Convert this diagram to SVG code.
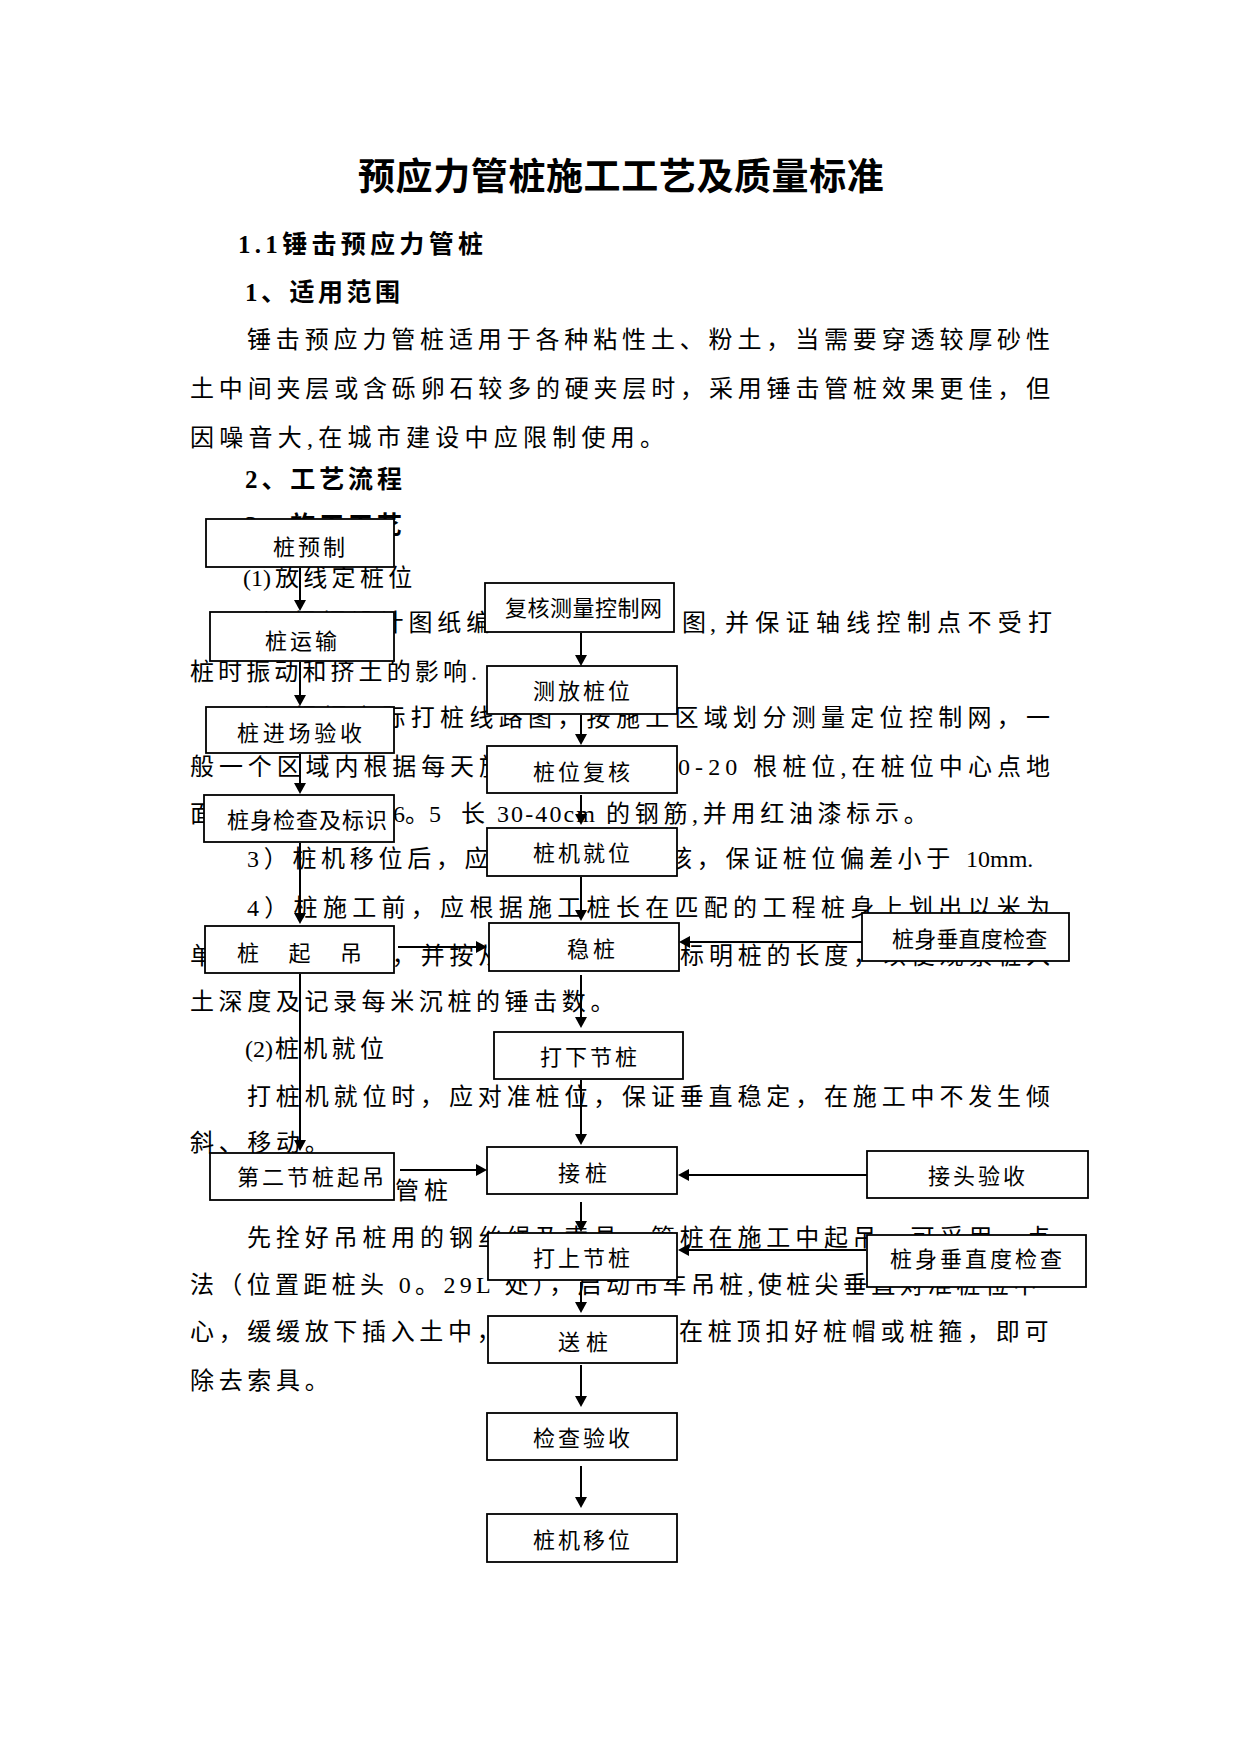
<svg xmlns="http://www.w3.org/2000/svg" width="1241" height="1754" viewBox="0 0 1241 1754">
<style>
.tt{font-family:"Noto Sans CJK SC","Noto Sans CJK JP",sans-serif;font-size:37px;font-weight:bold;fill:#000}
.h{font-family:"Liberation Serif","Noto Sans CJK SC",serif;font-size:25px;font-weight:bold;fill:#000}
.t{font-family:"Liberation Serif","Noto Sans CJK SC",serif;font-size:24px;fill:#000}
.bx{fill:#fff;stroke:#000;stroke-width:1.8}
.lb{font-family:"Noto Sans CJK SC",sans-serif;font-size:22px;fill:#000}
.cn{stroke:#000;stroke-width:2;fill:none;marker-end:url(#arr)}
</style>
<defs>
<marker id="arr" viewBox="0 0 11 12" refX="6" refY="6" markerWidth="11" markerHeight="12" markerUnits="userSpaceOnUse" orient="auto">
<path d="M0,0 L11,6 L0,12 z" fill="#000"/>
</marker>
</defs>
<rect x="0" y="0" width="1241" height="1754" fill="#fff"/>

<g id="body-text">
<text class="tt" x="358" y="189.5" letter-spacing="0.6">预应力管桩施工工艺及质量标准</text>
<text class="h" x="238" y="253" letter-spacing="4.3">1.1锤击预应力管桩</text>
<text class="h" x="245" y="300.5" letter-spacing="3.5">1、适用范围</text>
<text class="t" x="247" y="348" letter-spacing="4.85">锤击预应力管桩适用于各种粘性土、粉土，当需要穿透较厚砂性</text>
<text class="t" x="190" y="397" letter-spacing="4.83">土中间夹层或含砾卵石较多的硬夹层时，采用锤击管桩效果更佳，但</text>
<text class="t" x="190" y="446" letter-spacing="5.25">因噪音大,在城市建设中应限制使用。</text>
<text class="h" x="245" y="488" letter-spacing="3.9">2、工艺流程</text>
<text class="h" x="245" y="534" letter-spacing="3.9">3、施工工艺</text>
<text class="t" y="586"><tspan x="243">(1)</tspan><tspan x="275" letter-spacing="4.3">放线定桩位</tspan></text>
<text class="t" y="631"><tspan x="247" letter-spacing="4.9">1）根据设计图纸编</tspan><tspan x="682" letter-spacing="4">图,</tspan><tspan x="725" letter-spacing="6.3">并保证轴线控制点不受打</tspan></text>
<text class="t" x="190" y="679.5" letter-spacing="4.1">桩时振动和挤土的影响.</text>
<text class="t" x="247" y="726" letter-spacing="5.3">2）根据实际打桩线路图，按施工区域划分测量定位控制网，一</text>
<text class="t" y="774.5"><tspan x="190" letter-spacing="4.9">般一个区域内根据每天施</tspan><tspan x="678" letter-spacing="5.07">0-20 根桩位,在桩位中心点地</tspan></text>
<text class="t" y="822"><tspan x="190">面</tspan><tspan x="393">6。5</tspan><tspan x="461">长</tspan><tspan x="497" letter-spacing="2.1">30-40cm</tspan><tspan x="606" letter-spacing="4.7">的钢筋,并用红油漆标示。</tspan></text>
<text class="t" y="866.5"><tspan x="247" letter-spacing="4.7">3）桩机移位后，应</tspan><tspan x="668" letter-spacing="4.7">核，保证桩位偏差小于</tspan><tspan x="966">10mm.</tspan></text>
<text class="t" x="247" y="916" letter-spacing="5.3">4）桩施工前，应根据施工桩长在匹配的工程桩身上划出以米为</text>
<text class="t" x="190" y="963.5" letter-spacing="4.83">单位的长度标记，并按从下至上的顺序标明桩的长度，以便观察桩入</text>
<text class="t" x="190" y="1009.5" letter-spacing="4.6">土深度及记录每米沉桩的锤击数。</text>
<text class="t" y="1057"><tspan x="245">(2)</tspan><tspan x="275" letter-spacing="4.3">桩机就位</tspan></text>
<text class="t" x="247" y="1105" letter-spacing="4.85">打桩机就位时，应对准桩位，保证垂直稳定，在施工中不发生倾</text>
<text class="t" x="190" y="1151" letter-spacing="4.67">斜、移动。</text>
<text class="t" x="395" y="1199" letter-spacing="5">管桩</text>
<text class="t" x="247" y="1246" letter-spacing="4.85">先拴好吊桩用的钢丝绳及索具，管桩在施工中起吊，可采用一点</text>
<text class="t" x="190" y="1293" letter-spacing="4.34">法（位置距桩头 0。29L 处），启动吊车吊桩,使桩尖垂直对准桩位中</text>
<text class="t" y="1340"><tspan x="190" letter-spacing="4.67">心，缓缓放下插入土中，</tspan><tspan x="679" letter-spacing="4.8">在桩顶扣好桩帽或桩箍，即可</tspan></text>
<text class="t" x="190" y="1389" letter-spacing="4.67">除去索具。</text>
</g>

<g id="node-pile-prefab"><rect class="bx" x="206" y="519" width="188" height="48"/><text class="lb" x="273" y="555.4" letter-spacing="3">桩预制</text></g>
<g id="node-pile-transport"><rect class="bx" x="210" y="612" width="184" height="49"/><text class="lb" x="265" y="649.4" letter-spacing="3">桩运输</text></g>
<g id="node-site-acceptance"><rect class="bx" x="206" y="707" width="188" height="46"/><text class="lb" x="237" y="741.4" letter-spacing="3.75">桩进场验收</text></g>
<g id="node-body-check-mark"><rect class="bx" x="204" y="795" width="190" height="47"/><text class="lb" x="227" y="827.6" font-size="20" letter-spacing="1">桩身检查及标识</text></g>
<g id="node-pile-lift"><rect class="bx" x="205" y="926" width="189" height="47"/><text class="lb" x="237" y="961.4" letter-spacing="3.75">桩　起　吊</text></g>
<g id="node-second-lift"><rect class="bx" x="210" y="1153" width="184" height="47"/><text class="lb" x="237" y="1185.4" letter-spacing="3">第二节桩起吊</text></g>

<g id="node-recheck-network"><rect class="bx" x="485" y="583" width="189" height="49"/><text class="lb" x="505" y="615.5" font-size="21" letter-spacing="0.5">复核测量控制网</text></g>
<g id="node-set-out"><rect class="bx" x="487" y="666" width="190" height="48"/><text class="lb" x="533" y="699.4" letter-spacing="3">测放桩位</text></g>
<g id="node-position-recheck"><rect class="bx" x="487" y="746" width="190" height="47"/><text class="lb" x="533" y="780.4" letter-spacing="3">桩位复核</text></g>
<g id="node-rig-in-place"><rect class="bx" x="487" y="828" width="190" height="48"/><text class="lb" x="533" y="861.4" letter-spacing="3">桩机就位</text></g>
<g id="node-stabilize"><rect class="bx" x="489" y="923" width="190" height="48"/><text class="lb" x="567" y="957.4" letter-spacing="4">稳桩</text></g>
<g id="node-drive-lower"><rect class="bx" x="494" y="1032" width="189" height="47"/><text class="lb" x="540" y="1065.4" letter-spacing="3">打下节桩</text></g>
<g id="node-splice"><rect class="bx" x="487" y="1147" width="190" height="47"/><text class="lb" x="558" y="1181.4" letter-spacing="5">接桩</text></g>
<g id="node-drive-upper"><rect class="bx" x="488" y="1233" width="189" height="47"/><text class="lb" x="533" y="1266.4" letter-spacing="3">打上节桩</text></g>
<g id="node-follow"><rect class="bx" x="488" y="1316" width="189" height="47"/><text class="lb" x="558" y="1350.4" letter-spacing="6">送桩</text></g>
<g id="node-inspect"><rect class="bx" x="487" y="1413" width="190" height="47"/><text class="lb" x="533" y="1446.4" letter-spacing="3">检查验收</text></g>
<g id="node-rig-move"><rect class="bx" x="487" y="1514" width="190" height="48"/><text class="lb" x="533" y="1548.4" letter-spacing="3">桩机移位</text></g>

<g id="node-vertical-check-1"><rect class="bx" x="862" y="913" width="207" height="48"/><text class="lb" x="892" y="947" font-size="21" letter-spacing="0.2">桩身垂直度检查</text></g>
<g id="node-joint-acceptance"><rect class="bx" x="867" y="1151" width="221" height="47"/><text class="lb" x="928" y="1184.4" letter-spacing="3">接头验收</text></g>
<g id="node-vertical-check-2"><rect class="bx" x="867" y="1235" width="219" height="52"/><text class="lb" x="890" y="1267.4" letter-spacing="3">桩身垂直度检查</text></g>

<g id="connectors">
<line class="cn" x1="300" y1="568" x2="300" y2="606"/>
<line class="cn" x1="300" y1="662" x2="300" y2="701"/>
<line class="cn" x1="300" y1="754" x2="300" y2="789"/>
<line class="cn" x1="300" y1="843" x2="300" y2="919"/>
<line class="cn" x1="300" y1="974" x2="300" y2="1146"/>
<line class="cn" x1="581" y1="633" x2="581" y2="661"/>
<line class="cn" x1="581" y1="715" x2="581" y2="740"/>
<line class="cn" x1="581" y1="795" x2="581" y2="820"/>
<line class="cn" x1="581" y1="877" x2="581" y2="916"/>
<line class="cn" x1="581" y1="975" x2="581" y2="1023"/>
<line class="cn" x1="581" y1="1080" x2="581" y2="1140"/>
<line class="cn" x1="581" y1="1202" x2="581" y2="1227"/>
<line class="cn" x1="581" y1="1282" x2="581" y2="1308"/>
<line class="cn" x1="581" y1="1365" x2="581" y2="1402"/>
<line class="cn" x1="581" y1="1466" x2="581" y2="1503"/>
<line class="cn" x1="398" y1="947" x2="482" y2="947" stroke-width="3"/>
<line class="cn" x1="862" y1="942" x2="684" y2="942"/>
<line class="cn" x1="400" y1="1170" x2="482" y2="1170"/>
<line class="cn" x1="867" y1="1175" x2="683" y2="1175"/>
<line class="cn" x1="866" y1="1250" x2="683" y2="1250"/>
</g>
</svg>
